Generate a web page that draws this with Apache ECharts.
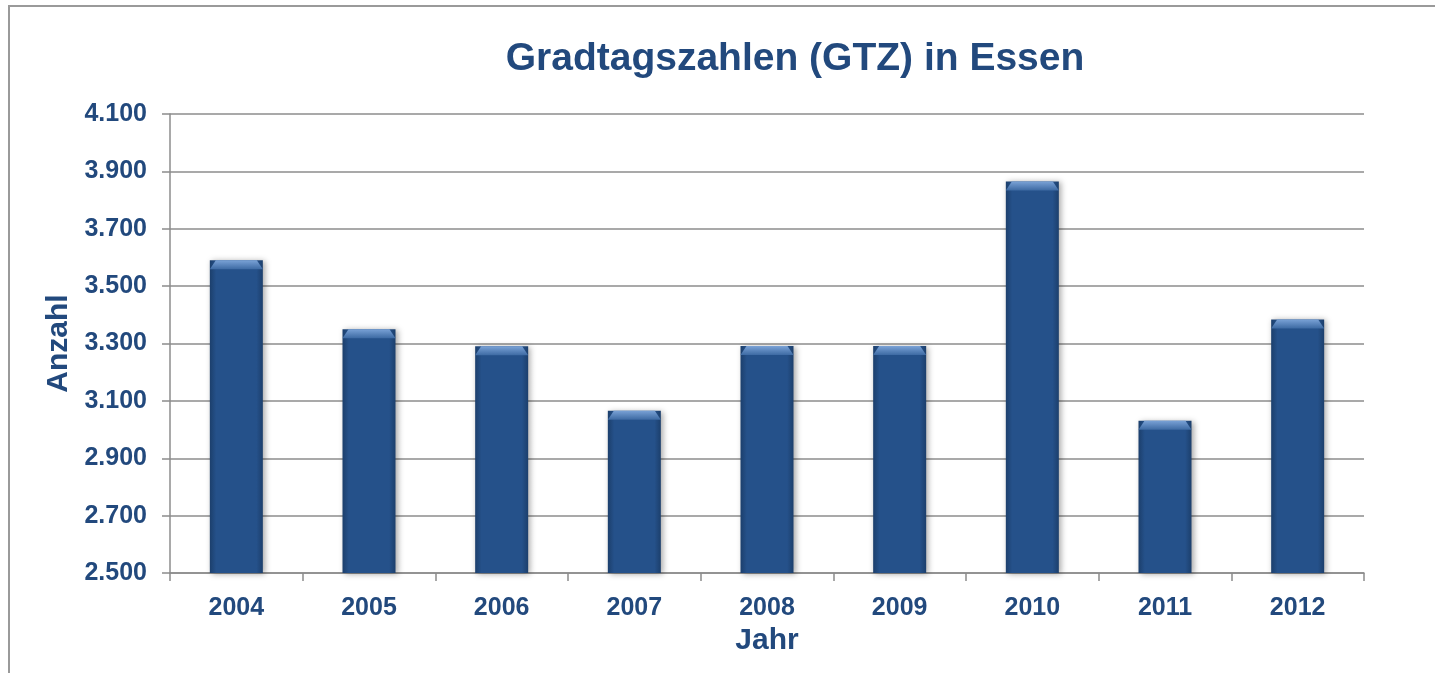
<!DOCTYPE html>
<html>
<head>
<meta charset="utf-8">
<title>Gradtagszahlen (GTZ) in Essen</title>
<script src="https://cdn.jsdelivr.net/npm/echarts@6/dist/echarts.min.js"></script>
<style>
  html, body { margin: 0; padding: 0; background: #fff; }
  #chart { width: 1435px; height: 673px; }
</style>
</head>
<body>
<div id="chart"></div>
<script>
// Daten
const jahre = ['2004', '2005', '2006', '2007', '2008', '2009', '2010', '2011', '2012'];
const gtz = [3590, 3350, 3290, 3066, 3291, 3291, 3865, 3031, 3384];
const yTicks = { min: 2500, max: 4100, interval: 200 };

const textColor = '#22497d';
const gridColor = '#8c8c8c';

var chart = echarts.init(document.getElementById('chart'));

const option = {
  backgroundColor: '#ffffff',
  animation: false,
  title: {
    text: 'Gradtagszahlen (GTZ) in Essen',
    left: 790,
    top: 35,
    textAlign: 'center',
    textStyle: {
      color: textColor,
      fontFamily: 'Liberation Sans, Arial, sans-serif',
      fontWeight: 'bold',
      fontSize: 39
    }
  },
  graphic: [
    {
      type: 'polyline',
      shape: { points: [[9, 673], [9, 6], [1435, 6]] },
      style: { stroke: '#9a9a9a', lineWidth: 2, fill: null }
    }
  ],
  grid: { left: 170, right: 71, top: 114, bottom: 100 },
  xAxis: {
    type: 'category',
    data: jahre,
    name: 'Jahr',
    nameLocation: 'middle',
    nameGap: 52,
    nameTextStyle: {
      color: textColor,
      fontFamily: 'Liberation Sans, Arial, sans-serif',
      fontWeight: 'bold',
      fontSize: 30
    },
    axisLine: { lineStyle: { color: gridColor, width: 1.5 } },
    axisTick: { show: true, length: 8, lineStyle: { color: gridColor, width: 1.5 } },
    axisLabel: {
      color: textColor,
      fontFamily: 'Liberation Sans, Arial, sans-serif',
      fontWeight: 'bold',
      fontSize: 25,
      margin: 23
    }
  },
  yAxis: {
    type: 'value',
    min: yTicks.min,
    max: yTicks.max,
    interval: yTicks.interval,
    name: 'Anzahl',
    nameLocation: 'middle',
    nameRotate: 90,
    nameGap: 91,
    nameTextStyle: {
      color: textColor,
      fontFamily: 'Liberation Sans, Arial, sans-serif',
      fontWeight: 'bold',
      fontSize: 30
    },
    axisLine: { show: true, lineStyle: { color: gridColor, width: 1.5 } },
    axisTick: { show: true, length: 8, lineStyle: { color: gridColor, width: 1.5 } },
    splitLine: { lineStyle: { color: gridColor, width: 1.5 } },
    axisLabel: {
      color: textColor,
      fontFamily: 'Liberation Sans, Arial, sans-serif',
      fontWeight: 'bold',
      fontSize: 25,
      margin: 23,
      formatter: function (v) {
        return String(v).replace(/\B(?=(\d{3})+(?!\d))/g, '.');
      }
    }
  },
  series: [
    {
      name: 'GTZ',
      type: 'bar',
      data: gtz,
      barWidth: 53,
      itemStyle: {
        color: new echarts.graphic.LinearGradient(0, 0, 1, 0, [
          { offset: 0, color: '#1c3f6c' },
          { offset: 0.12, color: '#25518a' },
          { offset: 0.88, color: '#25518a' },
          { offset: 1, color: '#1c3f6c' }
        ]),
        shadowBlur: 6,
        shadowColor: 'rgba(0,0,0,0.35)',
        shadowOffsetX: 2,
        shadowOffsetY: 1
      }
    },
    {
      // heller Rand oben (Bevel-Effekt)
      name: 'Kappe',
      type: 'pictorialBar',
      data: gtz,
      symbol: 'path://M0,9 L6,0 L47,0 L53,9 Z',
      symbolSize: [53, 9],
      symbolPosition: 'end',
      symbolOffset: [0, 0],
      z: 5,
      itemStyle: {
        color: new echarts.graphic.LinearGradient(0, 0, 0, 1, [
          { offset: 0, color: '#7aa2d6' },
          { offset: 1, color: '#3d6aa3' }
        ])
      }
    }
  ]
};

chart.setOption(option);
window.addEventListener('resize', () => {
  chart.resize();
});
</script>
</body>
</html>
